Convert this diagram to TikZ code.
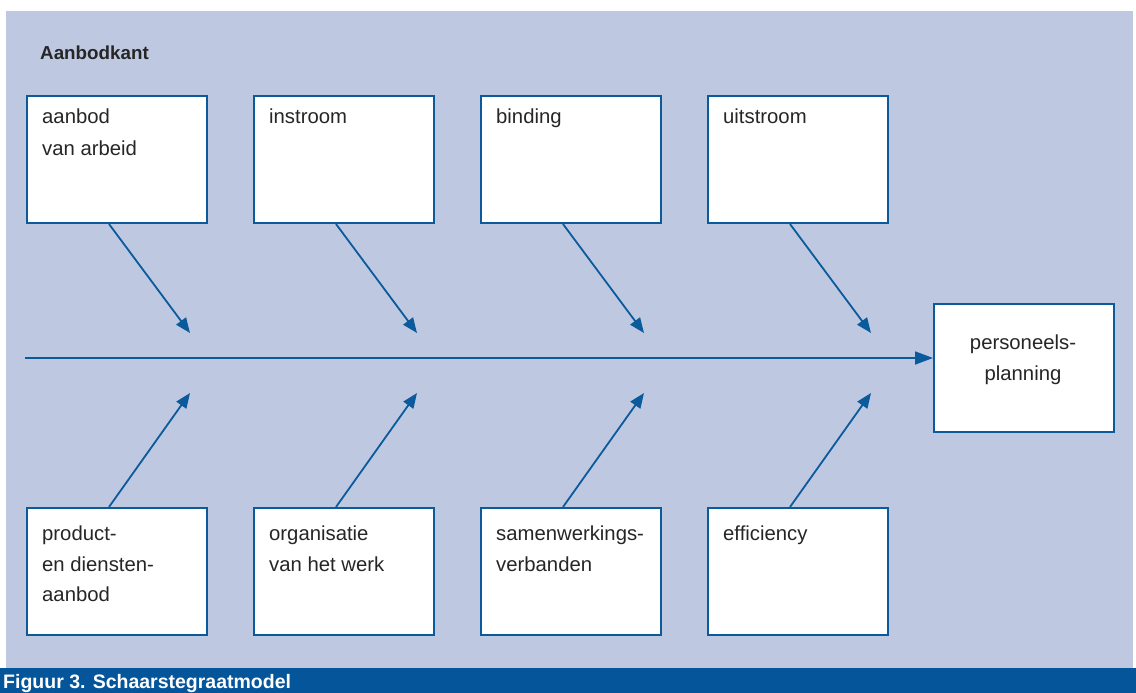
\documentclass[tikz,border=0pt]{standalone}
\usepackage{fontspec}
\setmainfont{Liberation Sans}
\usetikzlibrary{arrows.meta,calc}
\definecolor{bgblue}{HTML}{BEC8E1}
\definecolor{lineblue}{HTML}{0A5A9C}
\definecolor{barblue}{HTML}{04559A}
\definecolor{txt}{HTML}{262626}
\begin{document}
\begin{tikzpicture}[x=1pt,y=-1pt,
  box/.style={draw=lineblue,line width=2pt,fill=white,minimum width=180pt,minimum height=127pt,inner sep=0pt,anchor=north west},
  boxtext/.style={anchor=north west,inner sep=0pt,align=left,text=txt,font=\fontsize{20.3}{32}\selectfont},
  conn/.style={draw=lineblue,line width=1.8pt,-{Triangle[length=15pt,width=12pt]}}
]
\useasboundingbox (0,0) rectangle (1136,693);
\fill[bgblue] (6,11) rectangle (1133,668);
\fill[barblue] (0,668) rectangle (1136,693);
\node[anchor=base west,inner sep=0pt,text=white,font=\bfseries\fontsize{19.5}{22}\selectfont] (cap) at (3,688) {Figuur 3. Schaarstegraatmodel};
\node[anchor=base west,inner sep=0pt,text=txt,font=\bfseries\fontsize{18.8}{20}\selectfont] (title) at (40,60) {Aanbodkant};
% top boxes
\node[box] (t1) at (26,95) {};
\node[box] (t2) at (253,95) {};
\node[box] (t3) at (480,95) {};
\node[box] (t4) at (707,95) {};
% bottom boxes
\node[box] (b1) at (26,507) {};
\node[box] (b2) at (253,507) {};
\node[box] (b3) at (480,507) {};
\node[box] (b4) at (707,507) {};
% target box
\node[box,minimum width=180pt,minimum height=128pt] (pp) at (933,303) {};
\node[anchor=base,inner sep=0pt,text=txt,align=center,font=\fontsize{20.3}{31}\selectfont] (pptext) at (1023,380) {personeels-\\planning};
% texts
\node[boxtext] (t1x) at (42,109) {aanbod\\van arbeid};
\node[boxtext] (t2x) at (269,109) {instroom};
\node[boxtext] (t3x) at (496,109) {binding};
\node[boxtext] (t4x) at (723,109) {uitstroom};
\node[boxtext,font=\fontsize{20.3}{30.5}\selectfont] (b1x) at (42,526) {product-\\en diensten-\\aanbod};
\node[boxtext,font=\fontsize{20.3}{30.5}\selectfont] (b2x) at (269,526) {organisatie\\van het werk};
\node[boxtext,font=\fontsize{20.3}{30.5}\selectfont] (b3x) at (496,526) {samenwerkings-\\verbanden};
\node[boxtext,font=\fontsize{20.3}{30.5}\selectfont] (b4x) at (723,526) {efficiency};
% spine
\coordinate (start) at (25,358);
\draw[conn,-{Triangle[length=18pt,width=13pt]}] (start) -- (start -| pp.west);
% arrow tips
\foreach \i/\x in {1/190,2/417,3/644,4/871}{
  \coordinate (u\i) at (\x,333);
  \coordinate (d\i) at (\x,393);
  \draw[conn] ($(t\i.south)+(-8,0)$) -- (u\i);
  \draw[conn] ($(b\i.north)+(-8,0)$) -- (d\i);
}
\end{tikzpicture}
\end{document}
